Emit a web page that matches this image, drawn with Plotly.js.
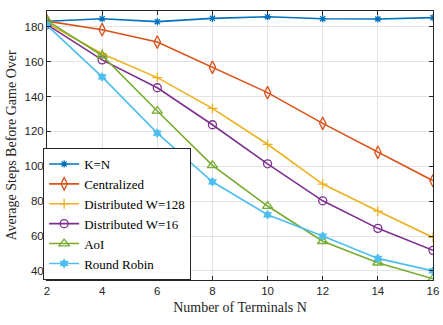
<!DOCTYPE html>
<html>
<head>
<meta charset="utf-8">
<script src="https://cdn.plot.ly/plotly-3.0.1.min.js"></script>
<style>body{margin:0;padding:0;background:#fff}</style>
</head>
<body>
<div id="chart" style="width:443px;height:325px"></div>
<script>
const terminals = [2, 4, 6, 8, 10, 12, 14, 16];
const kEqualsN = [183.1, 184.6, 182.9, 184.8, 185.7, 184.6, 184.4, 185.2];
const centralized = [183.2, 178.3, 171.2, 156.7, 142.2, 124.6, 108.0, 91.7];
const distW128 = [182.0, 164.5, 150.8, 133.2, 112.6, 89.8, 74.3, 59.2];
const distW16 = [181.2, 161.0, 145.0, 123.8, 101.4, 80.2, 64.4, 51.8];
const aoi = [183.5, 163.5, 131.7, 100.5, 77.2, 57.0, 44.7, 35.5];
const roundRobin = [180.8, 151.2, 119.0, 91.1, 72.2, 60.0, 47.2, 40.0];

function makeTrace(name, y, color, symbol, size) {
    return {
        x: terminals,
        y: y,
        type: 'scatter',
        mode: 'lines+markers',
        name: name,
        line: { color: color, width: 1.6 },
        marker: { symbol: symbol, size: size, color: color, line: { color: color, width: 1.3 } }
    };
}

const data = [
    makeTrace('K=N', kEqualsN, '#0072BD', 'asterisk-open', 6),
    makeTrace('Centralized', centralized, '#D95319', 'diamond-tall-open', 9),
    makeTrace('Distributed W=128', distW128, '#EDB120', 'cross-thin-open', 7),
    makeTrace('Distributed W=16', distW16, '#7E2F8E', 'circle-open', 8),
    makeTrace('AoI', aoi, '#77AC30', 'triangle-up-open', 9),
    makeTrace('Round Robin', roundRobin, '#4DBEEE', 'hexagram', 6)
];

const serif = '"Liberation Serif", "Times New Roman", Times, serif';

const axisCommon = {
    showline: true,
    mirror: 'ticks',
    linecolor: '#262626',
    linewidth: 1,
    ticks: 'inside',
    ticklen: 4,
    tickcolor: '#262626',
    showgrid: true,
    gridcolor: '#e3e3e3',
    zeroline: false,
    tickfont: { family: '"Liberation Sans", Arial, sans-serif', size: 11.5, color: '#262626' }
};

const layout = {
    width: 443,
    height: 325,
    margin: { l: 47, r: 10, t: 11, b: 45 },
    paper_bgcolor: '#fff',
    plot_bgcolor: '#fff',
    showlegend: true,
    xaxis: Object.assign({}, axisCommon, {
        range: [2, 16],
        tickvals: [2, 4, 6, 8, 10, 12, 14, 16],
        title: { text: 'Number of Terminals N', font: { family: serif, size: 14, color: '#262626' }, standoff: 6 }
    }),
    yaxis: Object.assign({}, axisCommon, {
        range: [34.8, 189],
        tickvals: [40, 60, 80, 100, 120, 140, 160, 180],
        title: { text: 'Average Steps Before Game Over', font: { family: serif, size: 14, color: '#262626' }, standoff: 4 }
    }),
    legend: {
        x: -0.01,
        y: 0,
        xanchor: 'left',
        yanchor: 'bottom',
        bgcolor: '#fff',
        bordercolor: '#262626',
        borderwidth: 1,
        font: { family: serif, size: 13, color: '#000' },
        tracegroupgap: 0,
        itemwidth: 30
    }
};

Plotly.newPlot('chart', data, layout, { displayModeBar: false, staticPlot: true });
</script>
</body>
</html>
